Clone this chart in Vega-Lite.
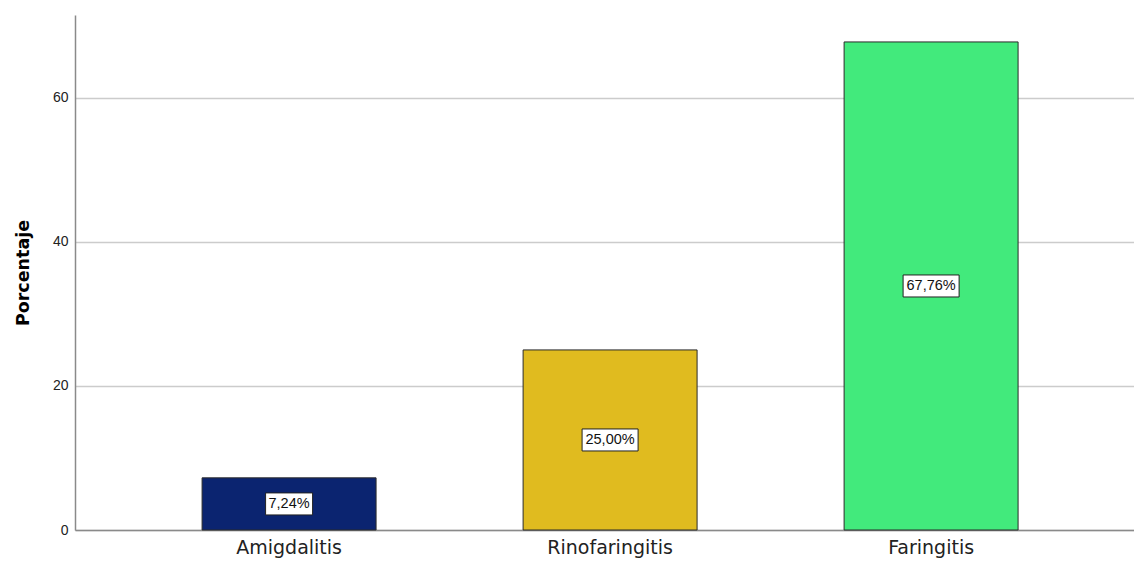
{
  "$schema": "https://vega.github.io/schema/vega-lite/v6.json",
  "width": 1059,
  "height": 515,
  "autosize": {"type": "none"},
  "padding": {"left": 75, "top": 15, "right": 0, "bottom": 32},
  "background": "white",
  "config": {
    "view": {"stroke": null},
    "font": "DejaVu Sans"
  },
  "data": {
    "values": [
      {"cat": "Amigdalitis", "pct": 7.24, "label": "7,24%", "box": "s"},
      {"cat": "Rinofaringitis", "pct": 25.0, "label": "25,00%", "box": "l"},
      {"cat": "Faringitis", "pct": 67.76, "label": "67,76%", "box": "l"}
    ]
  },
  "encoding": {
    "x": {
      "field": "cat",
      "type": "nominal",
      "sort": null,
      "scale": {"paddingInner": 0.458, "paddingOuter": 0.3785, "align": 0.523},
      "axis": {
        "title": null,
        "labelAngle": 0,
        "labelFontSize": 19,
        "labelColor": "#222",
        "labelPadding": 8,
        "ticks": false,
        "domainColor": "#8a8a8a",
        "domainWidth": 1.5
      }
    }
  },
  "layer": [
    {
      "mark": {"type": "bar", "stroke": "#2a2a2a", "strokeWidth": 1},
      "encoding": {
        "y": {
          "field": "pct",
          "type": "quantitative",
          "scale": {"domain": [0, 71.5], "nice": false},
          "axis": {
            "title": "Porcentaje",
            "titleFontSize": 17.5,
            "titleFontWeight": "bold",
            "titleColor": "#000",
            "titlePadding": 20,
            "values": [0, 20, 40, 60],
            "labelFont": "Liberation Sans",
            "labelFontSize": 14,
            "labelColor": "#222",
            "labelPadding": 7,
            "ticks": false,
            "grid": true,
            "gridColor": "#cccccc",
            "gridWidth": 1.6,
            "domainColor": "#8a8a8a",
            "domainWidth": 1.5
          }
        },
        "color": {
          "field": "cat",
          "type": "nominal",
          "scale": {
            "domain": ["Amigdalitis", "Rinofaringitis", "Faringitis"],
            "range": ["#0b2470", "#e0bb1f", "#42ea7c"]
          },
          "legend": null
        }
      }
    },
    {
      "transform": [{"calculate": "datum.pct / 2", "as": "mid"}, {"filter": "datum.box == 's'"}],
      "mark": {"type": "rect", "width": 47, "height": 22, "fill": "white", "stroke": "#222", "strokeWidth": 1},
      "encoding": {
        "y": {"field": "mid", "type": "quantitative", "scale": {"domain": [0, 71.5], "nice": false}}
      }
    },
    {
      "transform": [{"calculate": "datum.pct / 2", "as": "mid"}, {"filter": "datum.box == 'l'"}],
      "mark": {"type": "rect", "width": 56, "height": 22, "fill": "white", "stroke": "#222", "strokeWidth": 1},
      "encoding": {
        "y": {"field": "mid", "type": "quantitative", "scale": {"domain": [0, 71.5], "nice": false}}
      }
    },
    {
      "transform": [{"calculate": "datum.pct / 2", "as": "mid"}],
      "mark": {"type": "text", "font": "Liberation Sans", "fontSize": 14.5, "color": "#111", "baseline": "middle", "align": "center"},
      "encoding": {
        "y": {"field": "mid", "type": "quantitative", "scale": {"domain": [0, 71.5], "nice": false}},
        "text": {"field": "label"}
      }
    }
  ]
}
